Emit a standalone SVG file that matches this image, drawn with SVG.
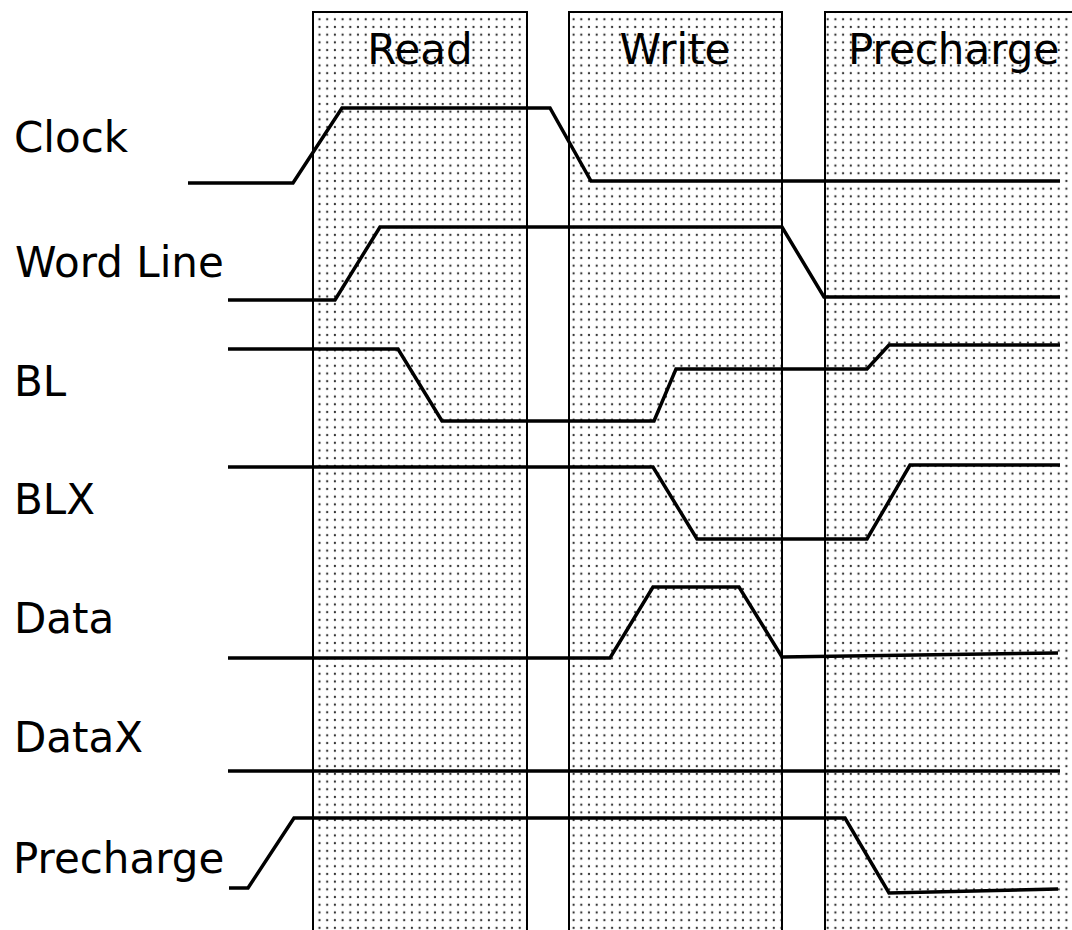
<svg xmlns="http://www.w3.org/2000/svg" width="1072" height="930" viewBox="0 0 1072 930">
<style>
.lbl{font-family:"DejaVu Sans",Verdana,sans-serif;font-size:42px;fill:#000}
.box{fill:url(#dots);stroke:#000;stroke-width:2}
.sig{fill:none;stroke:#000;stroke-width:3.5;stroke-linejoin:miter}
</style>
<defs>
<pattern id="dots" patternUnits="userSpaceOnUse" x="0" y="0" width="7.7" height="7.7">
<rect width="7.7" height="7.7" fill="#fff"/>
<circle cx="3.8" cy="3.8" r="1.15" fill="#333"/>
</pattern>
</defs>
<rect width="1072" height="930" fill="#fff"/>
<g id="phases">
<g id="phase-read"><rect class="box" x="313" y="12" width="214" height="930"/><text class="lbl" x="420" y="64" text-anchor="middle">Read</text></g>
<g id="phase-write"><rect class="box" x="569" y="12" width="213" height="930"/><text class="lbl" x="675" y="64" text-anchor="middle">Write</text></g>
<g id="phase-precharge"><rect class="box" x="825" y="12" width="260" height="930"/><text class="lbl" x="848" y="64">Precharge</text></g>
</g>
<g id="labels">
<text id="lbl-clock" class="lbl" x="14" y="152">Clock</text>
<text id="lbl-wordline" class="lbl" x="15" y="277">Word Line</text>
<text id="lbl-bl" class="lbl" x="14" y="396">BL</text>
<text id="lbl-blx" class="lbl" x="14" y="514">BLX</text>
<text id="lbl-data" class="lbl" x="14" y="633">Data</text>
<text id="lbl-datax" class="lbl" x="14" y="752">DataX</text>
<text id="lbl-precharge" class="lbl" x="13" y="873">Precharge</text>
</g>
<g id="signals">
<polyline id="sig-clock" class="sig" points="188,183 293,183 342,108 550,108 591,181 1060,181"/>
<polyline id="sig-wordline" class="sig" points="228,300 335,300 380,227 782,227 824,297 1060,297"/>
<polyline id="sig-bl" class="sig" points="228,349 398,349 442,421 654,421 676,369 867,369 889,345 1060,345"/>
<polyline id="sig-blx" class="sig" points="228,467 653,467 697,539 867,539 910,465 1060,465"/>
<polyline id="sig-data" class="sig" points="228,658 610,658 653,587 739,587 782,657 1058,653"/>
<polyline id="sig-datax" class="sig" points="228,771 1060,771"/>
<polyline id="sig-precharge" class="sig" points="229,888 248,888 294,818 845,818 889,893 1058,889"/>
</g>
</svg>
